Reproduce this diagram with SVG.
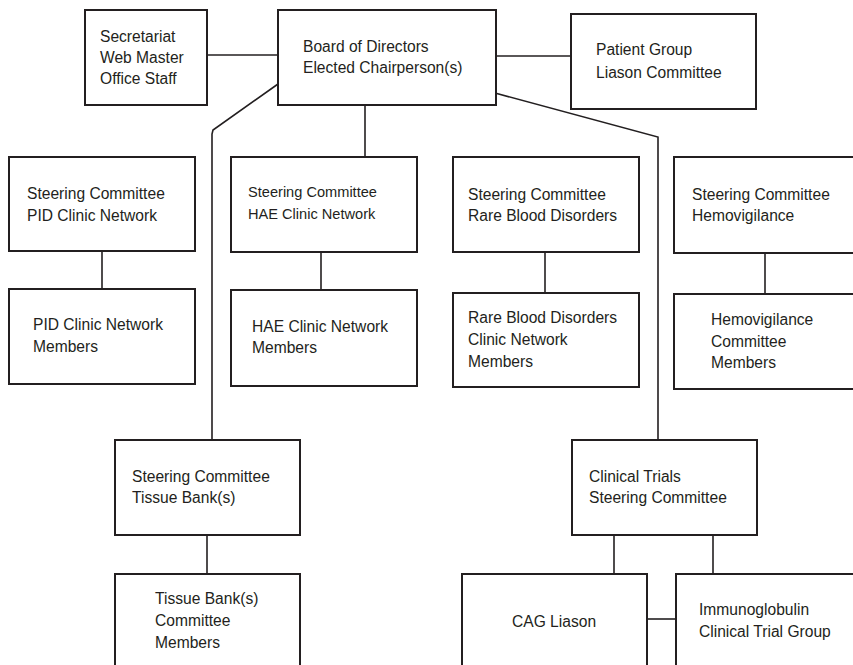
<svg xmlns="http://www.w3.org/2000/svg" width="853" height="665" viewBox="0 0 853 665">
<style>
rect{fill:#fff;stroke:#231f20;stroke-width:2}
text{font-family:"Liberation Sans",Arial,sans-serif;font-size:15.6px;fill:#231f20}
.sm{font-size:14.6px}
#connectors line,#connectors polyline{stroke:#231f20;stroke-width:1.6;fill:none}
</style>
<rect x="0" y="0" width="853" height="665" style="fill:#fff;stroke:none"/>
<g id="connectors">
<line x1="207" y1="55" x2="278" y2="55"/>
<line x1="496" y1="56" x2="571" y2="56"/>
<polyline points="278,84 213,130 212,134 212,440"/>
<line x1="365" y1="105" x2="365" y2="157"/>
<polyline points="495,93 658,137 658,442"/>
<line x1="102" y1="251" x2="102" y2="289"/>
<line x1="321" y1="252" x2="321" y2="290"/>
<line x1="545" y1="252" x2="545" y2="293"/>
<line x1="765" y1="253" x2="765" y2="294"/>
<line x1="207" y1="535" x2="207" y2="574"/>
<line x1="614" y1="535" x2="614" y2="574"/>
<line x1="713" y1="535" x2="713" y2="574"/>
<line x1="647" y1="619" x2="676" y2="619"/>
</g>
<g id="secretariat"><rect x="85" y="10" width="122" height="95"/>
<text x="100" y="42">Secretariat</text><text x="100" y="63">Web Master</text><text x="100" y="84">Office Staff</text></g>
<g id="board"><rect x="278" y="10" width="218" height="95"/>
<text x="303" y="52">Board of Directors</text><text x="303" y="73">Elected Chairperson(s)</text></g>
<g id="patient"><rect x="571" y="14" width="185" height="95"/>
<text x="596" y="55">Patient Group</text><text x="596" y="78">Liason Committee</text></g>
<g id="sc-pid"><rect x="9" y="157" width="186" height="94"/>
<text x="27" y="199">Steering Committee</text><text x="27" y="221">PID Clinic Network</text></g>
<g id="pid-members"><rect x="9" y="289" width="186" height="95"/>
<text x="33" y="330">PID Clinic Network</text><text x="33" y="352">Members</text></g>
<g id="sc-hae"><rect x="231" y="157" width="186" height="95"/>
<text class="sm" x="248" y="197">Steering Committee</text><text class="sm" x="248" y="219">HAE Clinic Network</text></g>
<g id="hae-members"><rect x="231" y="290" width="186" height="96"/>
<text x="252" y="332">HAE Clinic Network</text><text x="252" y="353">Members</text></g>
<g id="sc-rare"><rect x="453" y="157" width="186" height="95"/>
<text x="468" y="200">Steering Committee</text><text x="468" y="221">Rare Blood Disorders</text></g>
<g id="rare-members"><rect x="453" y="293" width="186" height="94"/>
<text x="468" y="323">Rare Blood Disorders</text><text x="468" y="345">Clinic Network</text><text x="468" y="367">Members</text></g>
<g id="sc-hemo"><rect x="674" y="157" width="190" height="96"/>
<text x="692" y="200">Steering Committee</text><text x="692" y="221">Hemovigilance</text></g>
<g id="hemo-members"><rect x="674" y="294" width="190" height="95"/>
<text x="711" y="325">Hemovigilance</text><text x="711" y="347">Committee</text><text x="711" y="368">Members</text></g>
<g id="sc-tissue"><rect x="115" y="440" width="185" height="95"/>
<text x="132" y="482">Steering Committee</text><text x="132" y="503">Tissue Bank(s)</text></g>
<g id="tissue-members"><rect x="115" y="574" width="185" height="100"/>
<text x="155" y="604">Tissue Bank(s)</text><text x="155" y="626">Committee</text><text x="155" y="648">Members</text></g>
<g id="clinical-trials"><rect x="572" y="440" width="185" height="95"/>
<text x="589" y="482">Clinical Trials</text><text x="589" y="503">Steering Committee</text></g>
<g id="cag"><rect x="462" y="574" width="185" height="100"/>
<text x="512" y="627">CAG Liason</text></g>
<g id="immuno"><rect x="676" y="574" width="190" height="100"/>
<text x="699" y="615">Immunoglobulin</text><text x="699" y="637">Clinical Trial Group</text></g>
</svg>
